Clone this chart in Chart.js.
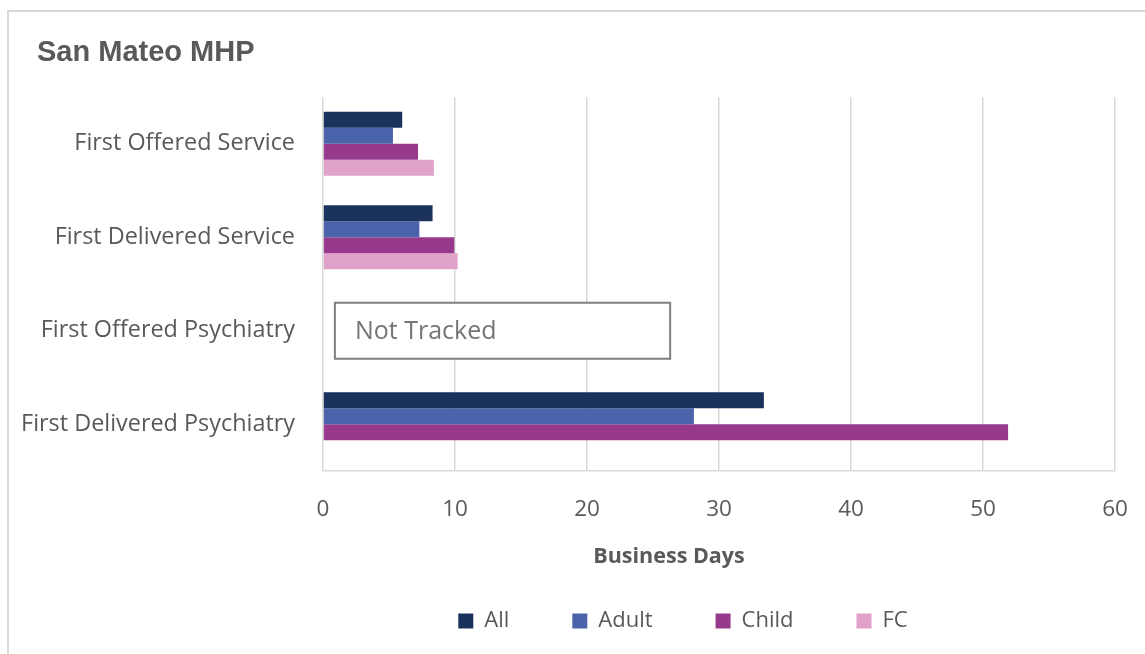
<!DOCTYPE html>
<html>
<head>
<meta charset="utf-8">
<script src="https://cdn.jsdelivr.net/npm/chart.js@4.4.1/dist/chart.umd.min.js"></script>
<style>
  html, body { margin: 0; padding: 0; background: #fff; overflow: hidden; }
  #frame { position: absolute; left: 7px; top: 10px; width: 1344px; height: 700px; border: 2px solid #d9d9d9; }
  #chart { position: absolute; left: 0; top: 0; }
</style>
</head>
<body>
<div id="frame"><canvas id="chart" width="1334" height="642"></canvas></div>
<script>
const categories = ["First Offered Service", "First Delivered Service", "First Offered Psychiatry", "First Delivered Psychiatry"];
const allDays = [6.0, 8.3, null, 33.4];
const adultDays = [5.3, 7.3, null, 28.1];
const childDays = [7.2, 9.95, null, 51.9];
const fcDays = [8.4, 10.2, null, null];
const xTicks = [0, 10, 20, 30, 40, 50, 60];

// "Not Tracked" note on the third row, in business days
const notTrackedRow = 2;
const notTrackedFrom = 0.9;
const notTrackedTo = 26.3;

const textColor = "#595959";
const font = "'Open Sans'";

const notTrackedBox = {
  id: "notTrackedBox",
  afterDatasetsDraw(chart) {
    const { ctx, scales: { x, y } } = chart;
    const left = x.getPixelForValue(notTrackedFrom);
    const right = x.getPixelForValue(notTrackedTo);
    const mid = y.getPixelForValue(notTrackedRow);
    const half = 28;
    ctx.save();
    ctx.fillStyle = "#ffffff";
    ctx.fillRect(left, mid - half, right - left, half * 2);
    ctx.strokeStyle = "#7f7f7f";
    ctx.lineWidth = 2;
    ctx.strokeRect(left, mid - half, right - left, half * 2);
    ctx.fillStyle = "#757575";
    ctx.font = "25px " + font;
    ctx.textBaseline = "middle";
    ctx.fillText("Not Tracked", left + 20, mid + 1);
    ctx.restore();
  },
};

// chart title and axis title are placed like the original frame, not the plot
const frameTexts = {
  id: "frameTexts",
  afterDraw(chart) {
    const ctx = chart.ctx;
    ctx.save();
    ctx.fillStyle = textColor;
    ctx.font = "bold 29px 'Liberation Sans', Arial";
    ctx.textBaseline = "alphabetic";
    ctx.fillText("San Mateo MHP", 28, 49);
    ctx.font = "bold 21.5px " + font;
    ctx.textAlign = "center";
    ctx.textBaseline = "middle";
    ctx.fillText("Business Days", chart.width / 2 - 7, chart.scales.x.bottom + 10);
    ctx.restore();
  },
};

const chart = new Chart(document.getElementById("chart"), {
  type: "bar",
  data: {
    labels: categories,
    datasets: [
      { label: "All", data: allDays, backgroundColor: "#1a325c" },
      { label: "Adult", data: adultDays, backgroundColor: "#4a63aa" },
      { label: "Child", data: childDays, backgroundColor: "#983a8c" },
      { label: "FC", data: fcDays, backgroundColor: "#e0a2c9" },
    ],
  },
  options: {
    indexAxis: "y",
    responsive: false,
    animation: false,
    devicePixelRatio: 1,
    datasets: {
      bar: { categoryPercentage: 0.685, barPercentage: 1, borderWidth: 0 },
    },
    layout: { padding: { left: 14, top: 85, right: 0, bottom: 12 } },
    scales: {
      x: {
        min: 0,
        max: 60,
        afterBuildTicks: (s) => {
          s.ticks = xTicks.map((v) => ({ value: v }));
        },
        grid: { color: "#d9d9d9", lineWidth: 1.5, drawTicks: false },
        border: { color: "#d9d9d9", width: 1.5 },
        ticks: { color: textColor, font: { family: font, size: 22.5 }, padding: 25 },
        afterFit: (s) => {
          s.height = 76;
        },
      },
      y: {
        grid: { display: false, drawTicks: false },
        border: { display: false },
        ticks: { color: textColor, font: { family: font, size: 23.4 }, padding: 28 },
        afterFit: (s) => {
          s.width = 300;
        },
      },
      y2: {
        type: "linear",
        position: "right",
        grid: { display: false, drawTicks: false },
        border: { display: false },
        ticks: { display: false },
        afterFit: (s) => {
          s.width = 228;
        },
      },
    },
    plugins: {
      title: { display: false },
      legend: {
        position: "bottom",
        labels: {
          boxWidth: 15,
          boxHeight: 15,
          padding: 63,
          color: textColor,
          font: { family: font, size: 22 },
        },
      },
      tooltip: { enabled: false },
    },
  },
  plugins: [notTrackedBox, frameTexts],
});
</script>
</body>
</html>
